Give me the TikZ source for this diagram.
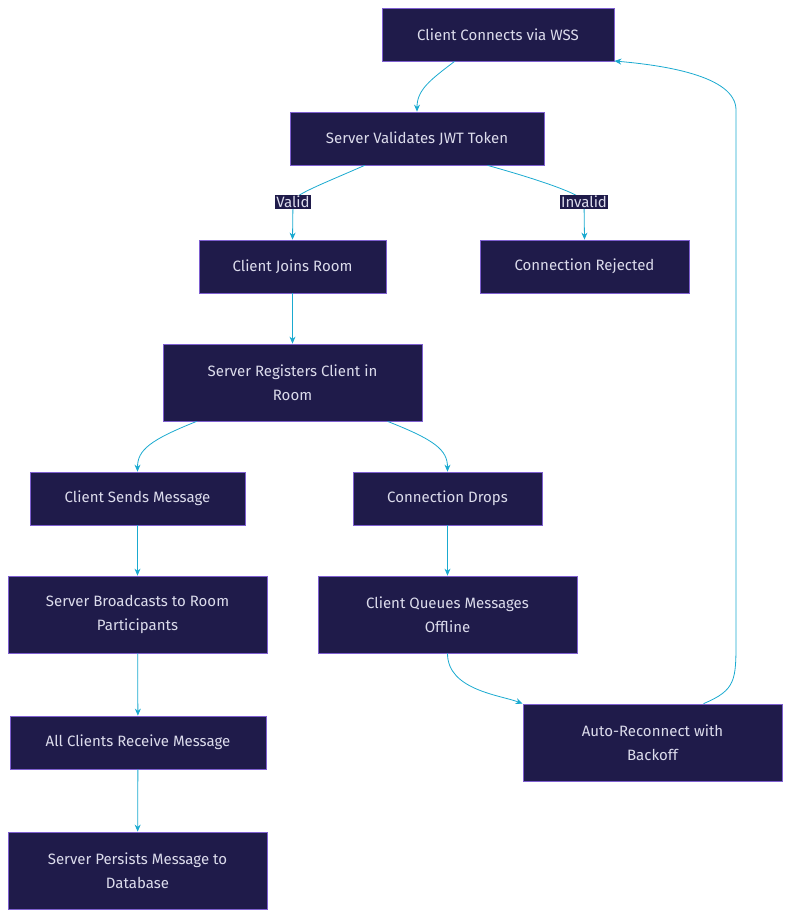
\documentclass[tikz,border=0pt]{standalone}
\usepackage{fontspec}
\setmainfont{Fira Sans}
\usetikzlibrary{arrows.meta}
\definecolor{bx}{HTML}{1F1B4A}
\definecolor{bd}{HTML}{7E5FD0}
\definecolor{tx}{HTML}{DCDCEC}
\definecolor{ed}{HTML}{1AAAD0}
\begin{document}
\begin{tikzpicture}[x=1pt,y=-1pt,
 box/.style={draw=bd,fill=bx,text=tx,line width=0.8pt,inner sep=0pt,align=center,font=\fontsize{15}{24}\selectfont},
 lbl/.style={fill=bx,text=tx,inner sep=1.5pt,font=\fontsize{15}{18}\selectfont},
 e/.style={draw=ed,line width=0.8pt,-{Stealth[length=7pt,width=6pt]}}]
\useasboundingbox (0,0) rectangle (791,918);
\node[box,minimum width=232,minimum height=53] (a) at (498,34.5) {Client Connects via WSS};
\node[box,minimum width=254,minimum height=53] (b) at (417,138.5) {Server Validates JWT Token};
\node[box,minimum width=187,minimum height=53] (c) at (292.5,266.5) {Client Joins Room};
\node[box,minimum width=209,minimum height=53] (d) at (584.5,266.5) {Connection Rejected};
\node[box,minimum width=259,minimum height=77] (r) at (292.5,382.5) {Server Registers Client in\\Room};
\node[box,minimum width=215,minimum height=53] (s) at (137.5,498.5) {Client Sends Message};
\node[box,minimum width=189,minimum height=53] (p) at (447.5,498.5) {Connection Drops};
\node[box,minimum width=259,minimum height=77] (bc) at (137.5,614.5) {Server Broadcasts to Room\\Participants};
\node[box,minimum width=259,minimum height=77] (q) at (447.5,614.5) {Client Queues Messages\\Offline};
\node[box,minimum width=256,minimum height=53] (all) at (138,742.5) {All Clients Receive Message};
\node[box,minimum width=259,minimum height=77] (ar) at (652.5,742.5) {Auto-Reconnect with\\Backoff};
\node[box,minimum width=259,minimum height=77] (ps) at (137.5,870.5) {Server Persists Message to\\Database};
\draw[e] (a.south west)++(73,0) .. controls (430,80) and (417,90) .. (b.north);
\draw[draw=ed,line width=0.8pt] (b.south west)++(75,0) .. controls (320,185) and (293,195) .. (293,202);
\draw[e] (293,202) -- (c.north);
\draw[draw=ed,line width=0.8pt] (b.south west)++(198,0) .. controls (540,180) and (584,195) .. (584,202);
\draw[e] (584,202) -- (d.north);
\node[lbl] (lv) at (293,202) {Valid};
\node[lbl] (li) at (584,202) {Invalid};
\draw[e] (c) -- (r);
\draw[e] (r.south west)++(34,0) .. controls (150,440) and (137.5,450) .. (s.north);
\draw[e] (r.south west)++(225,0) .. controls (435,440) and (447.5,450) .. (p.north);
\draw[e] (s) -- (bc);
\draw[e] (p) -- (q);
\draw[e] (bc) -- (all);
\draw[e] (all) -- (ps);
\draw[e] (q.south) .. controls (447.5,690) and (500,695) .. (ar.north west);
\draw[e] (ar.north west)++(181,0) .. controls (736,690) and (736,680) .. (736,640) -- (736,110) .. controls (736,75) and (660,65) .. (a.east |- 0,61);
\end{tikzpicture}
\end{document}
